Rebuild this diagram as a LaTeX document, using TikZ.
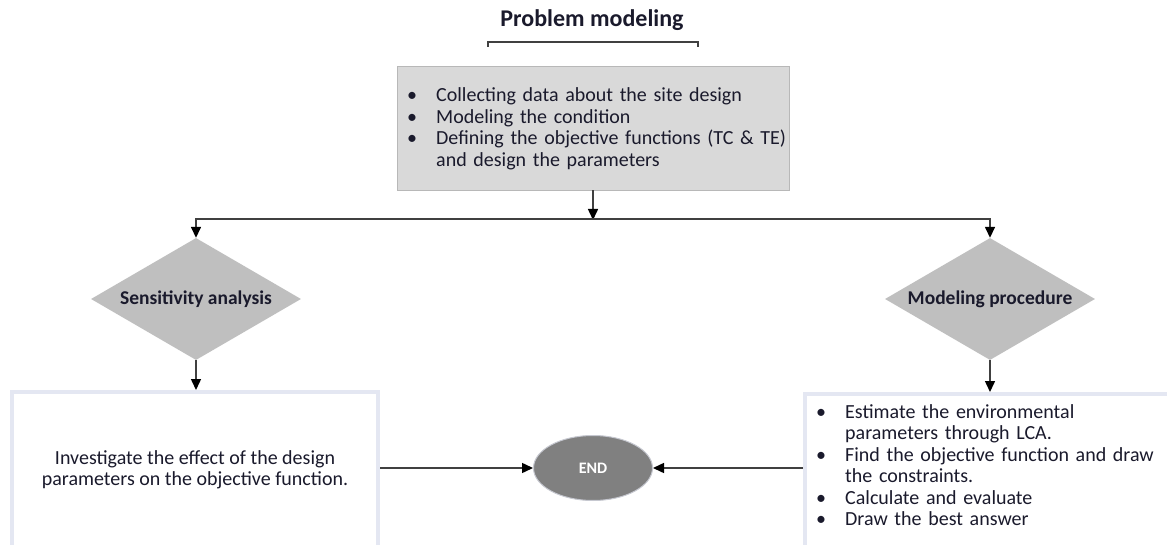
\documentclass[tikz,border=0pt]{standalone}
\usepackage{fontspec}
\setmainfont{Carlito}
\usetikzlibrary{shapes.geometric,arrows.meta}
\definecolor{txt}{HTML}{1A1A2C}
\definecolor{boxfill}{HTML}{D9D9D9}
\definecolor{diafill}{HTML}{BFBFBF}
\definecolor{edgeblue}{HTML}{E4E7F2}
\definecolor{linegray}{HTML}{404040}
\definecolor{endfill}{HTML}{808080}
\newcommand{\bitem}[1]{\hangindent=29pt\hangafter=1\noindent\makebox[29pt][l]{\textbullet}#1\par}
\begin{document}
\begin{tikzpicture}[x=1pt,y=-1pt,
  conn/.style={draw=linegray,line width=1.5pt,-{Triangle[length=11pt,width=10pt,color=black]}},
  topbox/.style={fill=boxfill,draw=boxfill!85!black,line width=0.4pt,minimum width=392pt,minimum height=124pt,inner sep=0pt},
  dia/.style={diamond,fill=diafill,minimum width=210pt,minimum height=122pt,inner sep=0pt,aspect=1.72},
  diatext/.style={text=txt,font=\bfseries\fontsize{19.5}{22}\selectfont,inner sep=0pt},
  wbox/.style={draw=edgeblue,line width=4pt,fill=white,inner sep=0pt},
  bodytext/.style={text=txt,font=\fontsize{20}{21.5}\selectfont,inner sep=0pt},
]
\useasboundingbox (0,0) rectangle (1167,545);
\fill[white] (0,0) rectangle (1167,545);
% title and bracket
\node[text=txt,font=\bfseries\fontsize{24}{28}\selectfont,inner sep=0pt] (title) at (592,20) {Problem modeling};
\coordinate (bl) at (488,47);
\coordinate (br) at (698,47);
\draw[draw=linegray,line width=1.2pt] (bl) -- ++(0,-5) -| (br);
% top box
\node[topbox] (top) at (593,128) {};
\node[bodytext,text width=380pt,anchor=west,align=left] (toptext) at (407,129) {%
\bitem{Collecting data about the site design}
\bitem{Modeling the condition}
\bitem{Defining the objective functions (TC \& TE)\newline and design the parameters}};
% diamonds
\node[dia] (ldia) at (196,299) {};
\node[diatext] (ldiat) at (196,299) {Sensitivity analysis};
\node[dia] (rdia) at (990,299) {};
\node[diatext] (rdiat) at (990,299) {Modeling procedure};
% connectors from top box
\coordinate (j) at (593,219);
\draw[conn] (top.south) -- ([yshift=-1pt]j);
\draw[conn] (j) -| (ldia.north);
\draw[conn] (j) -| (rdia.north);
% lower boxes
\node[wbox,minimum width=366pt,minimum height=170pt] (lbox) at (195,477) {};
\node[bodytext,align=center] (lboxt) at (195,470) {Investigate the effect of the design\\parameters on the objective function.};
\node[wbox,minimum width=380pt,minimum height=170pt] (rbox) at (995,479) {};
\node[bodytext,text width=345pt,anchor=north west,align=left] (rboxt) at (816,404) {%
\bitem{Estimate the environmental\newline parameters through LCA.}
\bitem{Find the objective function and draw\newline the constraints.}
\bitem{Calculate and evaluate}
\bitem{Draw the best answer}};
\draw[conn] (ldia.south) -- (ldia.south |- lbox.north);
\draw[conn] (rdia.south) -- (rdia.south |- rbox.north);
% END
\node[ellipse,fill=endfill,draw=edgeblue!70!gray,line width=1pt,minimum width=119pt,minimum height=65pt,inner sep=0pt,text=white,font=\bfseries\fontsize{16}{18}\selectfont] (end) at (593,468) {END};
\draw[conn] (lbox.east |- end) -- (end.west);
\draw[conn] (rbox.west |- end) -- (end.east);
\end{tikzpicture}
\end{document}
